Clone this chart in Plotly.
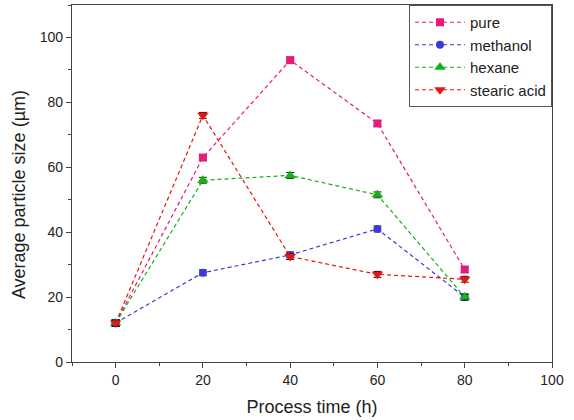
import plotly.graph_objects as go

time_h = [0, 20, 40, 60, 80]
pure = [12.0, 63.0, 93.0, 73.5, 28.5]
methanol = [12.0, 27.5, 33.0, 41.0, 20.0]
hexane = [12.0, 56.0, 57.5, 51.5, 20.0]
stearic_acid = [12.0, 76.0, 32.5, 27.0, 25.5]
err = [0.9, 0.9, 0.9, 0.9, 0.9]

series = [
    ("pure", pure, "#E6197D", "square", 8),
    ("methanol", methanol, "#3A3AD6", "circle", 8),
    ("hexane", hexane, "#12B312", "triangle-up", 10),
    ("stearic acid", stearic_acid, "#E51515", "triangle-down", 10),
]

FONT = "Liberation Sans, Arial"

fig = go.Figure()
for name, ys, col, sym, sz in series:
    fig.add_trace(go.Scatter(
        x=time_h, y=ys, name=name, mode="lines+markers",
        line=dict(color=col, width=1.2, dash="4px,3px"),
        marker=dict(color=col, symbol=sym, size=sz),
        error_y=dict(type="data", array=err, color="#111", thickness=1, width=4),
    ))

axis_common = dict(
    showline=True, linecolor="#444", linewidth=1.2, mirror=True,
    ticks="outside", ticklen=5, tickcolor="#444",
    showgrid=False, zeroline=False,
    tickfont=dict(family=FONT, size=14, color="#222"),
    minor=dict(ticks="outside", ticklen=3, dtick=10, tickcolor="#444"),
)

fig.update_xaxes(range=[-10, 100], dtick=20, tick0=0,
                 title=dict(text="Process time (h)", font=dict(family=FONT, size=18, color="#222"), standoff=13),
                 **axis_common)
fig.update_yaxes(range=[0, 110], dtick=20, tick0=0, **axis_common)

fig.add_annotation(
    text="Average particle size (µm)", textangle=-90,
    xref="paper", yref="paper", x=-0.11, y=0.468,
    xanchor="center", yanchor="middle", showarrow=False,
    font=dict(family=FONT, size=18, color="#222"),
)

fig.update_layout(
    width=574, height=420,
    margin=dict(l=72, r=22, t=5, b=58),
    plot_bgcolor="white", paper_bgcolor="white",
    legend=dict(x=1, y=1, xanchor="right", yanchor="top",
                bordercolor="#555", borderwidth=1, bgcolor="white",
                font=dict(family=FONT, size=15, color="#222"),
                tracegroupgap=0, itemwidth=50),
)

fig.write_html("out.html")
